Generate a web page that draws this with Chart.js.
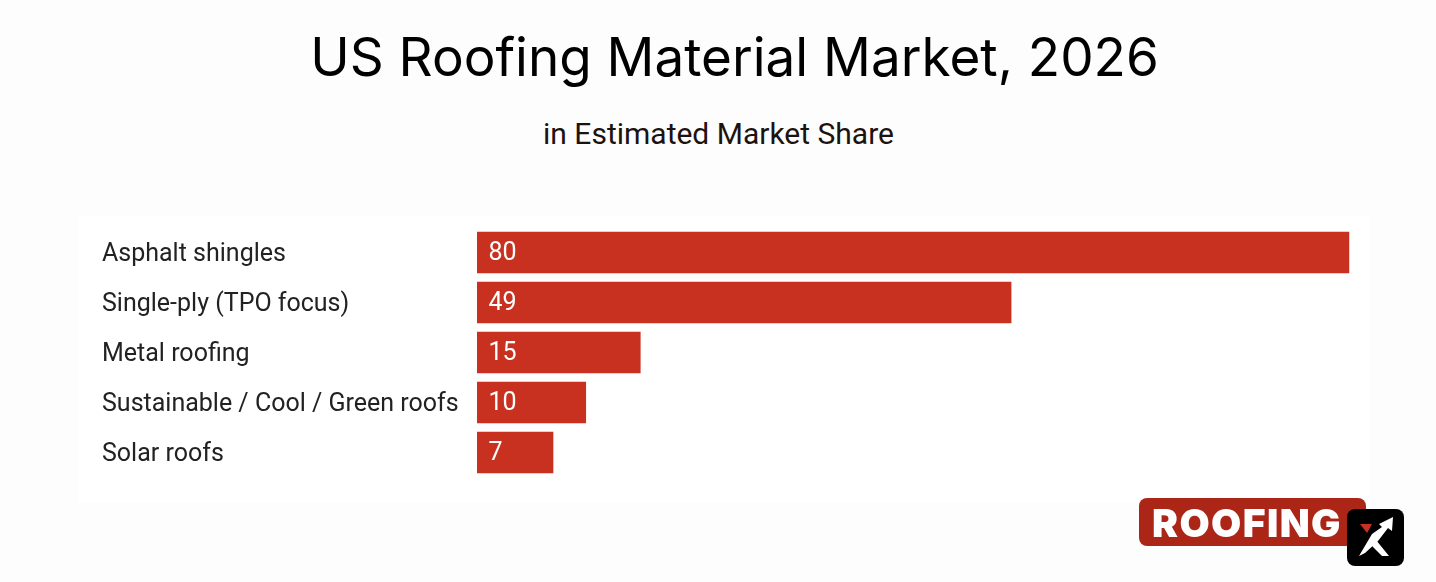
<!DOCTYPE html>
<html>
<head>
<meta charset="utf-8">
<title>US Roofing Material Market, 2026</title>
<script src="https://cdn.jsdelivr.net/npm/chart.js@4"></script>
<style>
    html, body { margin: 0; padding: 0; background: #fdfdfd; }
    #wrap { position: relative; width: 1436px; height: 582px; overflow: hidden; }
    #panel { position: absolute; left: 78px; top: 216px; width: 1292px; height: 287px; background: #ffffff; }
    #myChart { position: absolute; left: 0; top: 0; }
    #chartTitle { position: absolute; left: 0; top: 25px; width: 1469px; text-align: center; white-space: nowrap;
        color: #000; font: 400 53px/64px Inter, sans-serif; }
    #chartSubtitle { position: absolute; left: 0; top: 116px; width: 1437px; text-align: center; white-space: nowrap;
        color: #1c1210; font: 400 30px/36px Roboto, sans-serif; }
    #logoBox { position: absolute; left: 1139px; top: 498px; width: 227px; height: 48px; background: #ac2617; border-radius: 8px;
        color: #fff; font: 900 39px/49px Inter, sans-serif; letter-spacing: 1.4px; padding-left: 13px; box-sizing: border-box; }
    #logoX { position: absolute; left: 1347px; top: 509px; width: 57px; height: 57px; background: #000; border-radius: 8px; }
</style>
</head>
<body>
<div id="wrap">
    <div id="panel"></div>
    <div id="chartTitle">US Roofing Material Market, 2026</div>
    <div id="chartSubtitle">in Estimated Market Share</div>
    <canvas id="myChart" width="1436" height="582"></canvas>
    <div id="logoBox">ROOFING</div>
    <div id="logoX">
        <svg width="57" height="57" viewBox="0 0 57 57">
            <path d="M13 15 L25 15 L20 24 Z" fill="#c8301f"/>
            <path d="M12 47 L25 25 L35 18 L32 15 L46 8 L45 22 L41 19 L31 32 L18 44 Z" fill="#fff"/>
            <path d="M24 27 L29 31 L42 47 L35 47 L25 37 Z" fill="#fff"/>
        </svg>
    </div>
</div>
<script>
const categories = ['Asphalt shingles', 'Single-ply (TPO focus)', 'Metal roofing', 'Sustainable / Cool / Green roofs', 'Solar roofs'];
const shareValues = [80, 49, 15, 10, 7];

// values written inside the bars, chart.js has no built in labels
const barLabels = {
    id: 'barLabels',
    afterDatasetsDraw: function (chart) {
        const ctx = chart.ctx;
        ctx.save();
        ctx.font = '25px Roboto';
        ctx.fillStyle = '#ffffff';
        ctx.textBaseline = 'middle';
        chart.getDatasetMeta(0).data.forEach(function (bar, i) {
            ctx.fillText(shareValues[i], bar.base + 11.5, bar.y + 1.5);
        });
        ctx.restore();
    }
};

new Chart(document.getElementById('myChart'), {
    type: 'bar',
    data: {
        labels: categories,
        datasets: [{
            data: shareValues,
            backgroundColor: '#c8301f',
            categoryPercentage: 1,
            barPercentage: 0.83
        }]
    },
    plugins: [barLabels],
    options: {
        indexAxis: 'y',
        responsive: false,
        animation: false,
        layout: {
            padding: { left: 102, right: 86.5, top: 227.5, bottom: 104.5 }
        },
        plugins: {
            legend: { display: false },
            tooltip: { enabled: false }
        },
        scales: {
            x: {
                display: false,
                min: 0,
                max: 80,
                grid: { display: false }
            },
            y: {
                afterFit: function (scale) {
                    scale.width = 375;
                },
                grid: { display: false },
                border: { display: false },
                ticks: {
                    crossAlign: 'far',
                    color: '#222222',
                    padding: 0,
                    labelOffset: 2,
                    font: { family: 'Roboto', size: 25 }
                }
            }
        }
    }
});
</script>
</body>
</html>
